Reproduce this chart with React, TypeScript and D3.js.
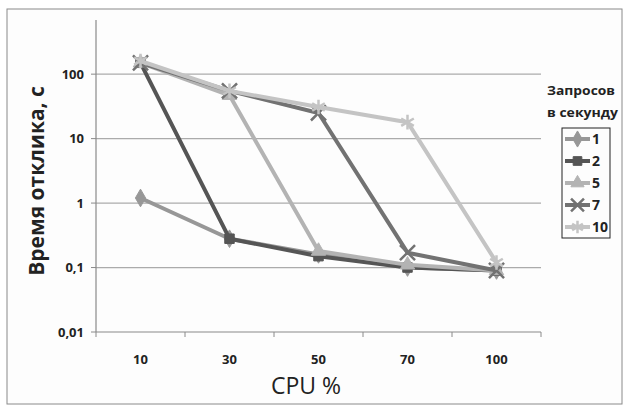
import React, { useEffect, useRef } from 'react';
import * as d3 from 'd3';

const categories = ['10', '30', '50', '70', '100'];
const seriesNames = ['1', '2', '5', '7', '10'];
const s1 = [1.2, 0.28, 0.16, 0.1, 0.09];
const s2 = [150, 0.28, 0.15, 0.1, 0.09];
const s5 = [150, 47, 0.18, 0.11, 0.09];
const s7 = [150, 55, 25, 0.17, 0.09];
const s10 = [160, 55, 31, 18, 0.12];
const yTicks = [0.01, 0.1, 1, 10, 100];
const yTickLabels = ['0,01', '0,1', '1', '10', '100'];

const colors = ['#979797', '#555555', '#b3b3b3', '#727272', '#c4c4c4'];
const symbols = [d3.symbolDiamond, d3.symbolSquare, d3.symbolTriangle, d3.symbolX, d3.symbolAsterisk];

const App = () => {
  const ref = useRef<SVGSVGElement>(null);

  useEffect(() => {
    const svg = d3.select(ref.current);
    svg.selectAll('*').remove();
    const W = 625, H = 407;
    const left = 96, right = 541, top = 20, bottom = 332;
    const font = 'Open Sans, Liberation Sans, sans-serif';

    svg.append('rect').attr('x', 0).attr('y', 0).attr('width', W).attr('height', H).attr('fill', '#fff');
    svg.append('rect').attr('x', 7).attr('y', 9).attr('width', 615).attr('height', 395)
      .attr('fill', '#fdfdfd').attr('stroke', '#8a8a8a').attr('stroke-width', 1);

    const x = d3.scaleBand().domain(categories).range([left, right]);
    const y = d3.scaleLog().domain([0.01, Math.pow(10, 2.84)]).range([bottom, top]);

    // gridlines
    svg.append('g').selectAll('line').data(yTicks.slice(1)).join('line')
      .attr('x1', left).attr('x2', right)
      .attr('y1', d => y(d)).attr('y2', d => y(d))
      .attr('stroke', '#ababab').attr('stroke-width', 1.2);

    // axes
    svg.append('line').attr('x1', left).attr('x2', left).attr('y1', top).attr('y2', bottom)
      .attr('stroke', '#8a8a8a').attr('stroke-width', 1.2);
    svg.append('line').attr('x1', left).attr('x2', right).attr('y1', bottom).attr('y2', bottom)
      .attr('stroke', '#8a8a8a').attr('stroke-width', 1.2);
    svg.append('g').selectAll('line').data(yTicks).join('line')
      .attr('x1', left - 5).attr('x2', left).attr('y1', d => y(d)).attr('y2', d => y(d))
      .attr('stroke', '#8a8a8a');
    const xEdges = categories.map(c => x(c) as number).concat([right]);
    svg.append('g').selectAll('line').data(xEdges).join('line')
      .attr('x1', d => d).attr('x2', d => d).attr('y1', bottom).attr('y2', bottom + 5)
      .attr('stroke', '#8a8a8a');

    svg.append('g').selectAll('text').data(yTicks).join('text')
      .attr('x', left - 12).attr('y', d => y(d)).attr('dy', '0.35em')
      .attr('text-anchor', 'end').attr('font-family', font).attr('font-weight', 'bold')
      .attr('font-size', 13).attr('fill', '#222')
      .text((d, i) => yTickLabels[i]);

    svg.append('g').selectAll('text').data(categories).join('text')
      .attr('x', d => (x(d) as number) + x.bandwidth() / 2).attr('y', 359).attr('dy', '0.35em')
      .attr('text-anchor', 'middle').attr('font-family', font).attr('font-weight', 'bold')
      .attr('font-size', 13).attr('fill', '#222')
      .text(d => d);

    svg.append('text').attr('x', 306).attr('y', 386).attr('dy', '0.35em')
      .attr('text-anchor', 'middle').attr('font-family', font).attr('font-size', 23).attr('fill', '#222')
      .text('CPU %');
    svg.append('text').attr('transform', `translate(37,181) rotate(-90)`).attr('dy', '0.35em')
      .attr('text-anchor', 'middle').attr('font-family', font).attr('font-weight', 'bold')
      .attr('font-size', 21).attr('fill', '#222')
      .text('Время отклика, с');

    const all = [s1, s2, s5, s7, s10];
    const cx = (i: number) => (x(categories[i]) as number) + x.bandwidth() / 2;
    const line = d3.line<number>().x((d, i) => cx(i)).y(d => y(d));

    all.forEach((s, k) => {
      const g = svg.append('g');
      g.append('path').attr('d', line(s)).attr('fill', 'none')
        .attr('stroke', colors[k]).attr('stroke-width', 4).attr('stroke-linejoin', 'round');
      const sym = d3.symbol().type(symbols[k]).size(k >= 3 ? 150 : 90);
      g.selectAll('path.m').data(s).join('path').attr('class', 'm')
        .attr('transform', (d, i) => `translate(${cx(i)},${y(d)})`)
        .attr('d', sym())
        .attr('fill', k >= 3 ? 'none' : colors[k])
        .attr('stroke', colors[k]).attr('stroke-width', k >= 3 ? 2.5 : 1);
    });

    // legend
    svg.append('text').attr('x', 547).attr('y', 90).attr('dy', '0.35em')
      .attr('textLength', 68).attr('lengthAdjust', 'spacingAndGlyphs')
      .attr('font-family', font).attr('font-weight', 'bold').attr('font-size', 13).attr('fill', '#222')
      .text('Запросов');
    svg.append('text').attr('x', 547).attr('y', 112).attr('dy', '0.35em')
      .attr('textLength', 71).attr('lengthAdjust', 'spacingAndGlyphs')
      .attr('font-family', font).attr('font-weight', 'bold').attr('font-size', 13).attr('fill', '#222')
      .text('в секунду');
    svg.append('rect').attr('x', 562).attr('y', 128).attr('width', 48).attr('height', 110)
      .attr('fill', 'none').attr('stroke', '#222').attr('stroke-width', 1);
    seriesNames.forEach((n, k) => {
      const ly = 139 + k * 22;
      svg.append('line').attr('x1', 565).attr('x2', 590).attr('y1', ly).attr('y2', ly)
        .attr('stroke', colors[k]).attr('stroke-width', 4);
      svg.append('path').attr('transform', `translate(577.5,${ly})`)
        .attr('d', d3.symbol().type(symbols[k]).size(k >= 3 ? 110 : 75)())
        .attr('fill', k >= 3 ? 'none' : colors[k]).attr('stroke', colors[k]).attr('stroke-width', k >= 3 ? 2.5 : 1);
      svg.append('text').attr('x', 592).attr('y', ly).attr('dy', '0.35em')
        .attr('font-family', font).attr('font-weight', 'bold').attr('font-size', 14).attr('fill', '#222')
        .text(n);
    });
  }, []);

  return (
    <svg ref={ref} width={625} height={407}
      style={{ position: 'absolute', left: 0, top: 0, display: 'block' }} />
  );
};

export default App;
